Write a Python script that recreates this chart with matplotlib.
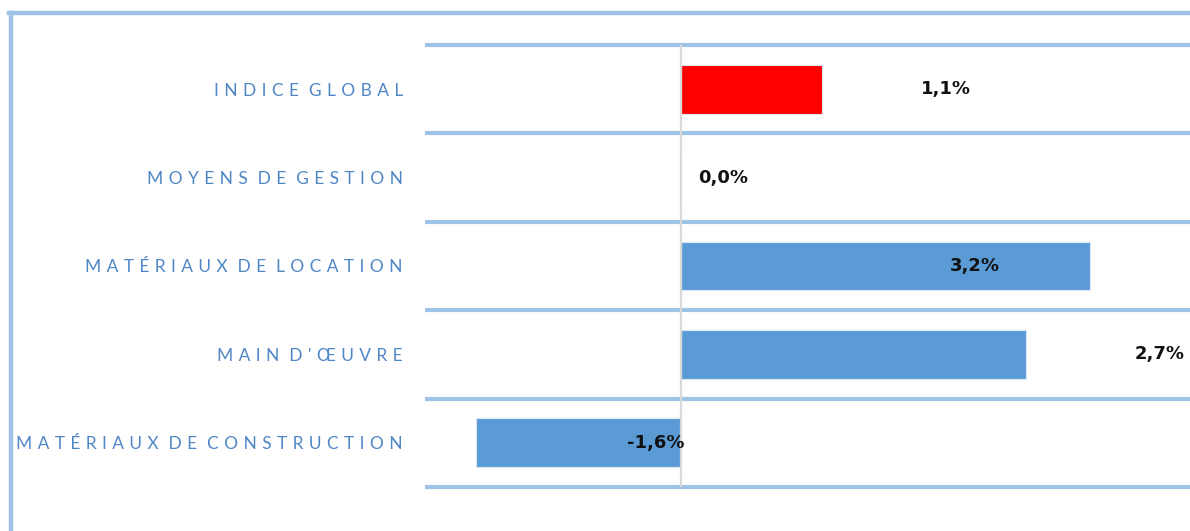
import matplotlib
matplotlib.use('Agg')
import matplotlib.pyplot as plt
from matplotlib.lines import Line2D

categories = ['INDICE GLOBAL', 'MOYENS DE GESTION', 'MATÉRIAUX DE LOCATION',
              "MAIN D'ŒUVRE", 'MATÉRIAUX DE CONSTRUCTION']
values = [1.1, 0.0, 3.2, 2.7, -1.6]
value_labels = ['1,1%', '0,0%', '3,2%', '2,7%', '-1,6%']

# where the data labels sit (x in data units), as in the original
label_x = [2.07, 0.33, 2.3, 3.74, -0.2]

blue = '#5b9bd5'
red = '#ff0000'
grid_blue = '#9dc3e6'
text_blue = '#4f86c6'

plt.rcParams['font.family'] = ['Lato', 'DejaVu Sans']


def spaced(s):
    # wide letter spacing like the original labels
    gap = '\u2009\u2009\u200a'
    return (gap + ' ').join(gap.join(w) for w in s.split(' '))


fig = plt.figure(figsize=(11.9, 5.31), dpi=100)
ax = fig.add_axes([425 / 1190, 44 / 531, 1 - 425 / 1190, (487 - 45) / 531])

n = len(categories)
ypos = list(range(n))[::-1]
colors = [red] + [blue] * (n - 1)

ax.barh(ypos, values, height=0.55, color=colors, edgecolor='#dbe8f5', linewidth=0.8, zorder=2)
ax.axvline(0, color='#d9d9d9', lw=1.6, zorder=3)

for i in range(n + 1):
    ax.axhline(i - 0.5, color=grid_blue, lw=3, zorder=1, clip_on=False,
               solid_capstyle='butt')

for y, x, t in zip(ypos, label_x, value_labels):
    ax.text(x, y, t, ha='center', va='center', fontsize=13, fontweight='bold',
            family='DejaVu Sans', color='#111111', zorder=4)

ax.set_xlim(-2, 3.98)
ax.set_ylim(-0.5, n - 0.5)
ax.set_yticks(ypos)
ax.set_yticklabels([spaced(c) for c in categories], color=text_blue, fontsize=12.5)
ax.tick_params(axis='y', length=0, pad=16)
ax.set_xticks([])
for sp in ax.spines.values():
    sp.set_visible(False)

# outer frame (left and top edges visible)
fig.add_artist(Line2D([10.5 / 1190, 10.5 / 1190], [0, 1 - 13 / 531],
                      transform=fig.transFigure, color=grid_blue, lw=3.2))
fig.add_artist(Line2D([9 / 1190, 1], [1 - 13 / 531, 1 - 13 / 531],
                      transform=fig.transFigure, color=grid_blue, lw=3.2))

fig.savefig('out.png', dpi=100)
